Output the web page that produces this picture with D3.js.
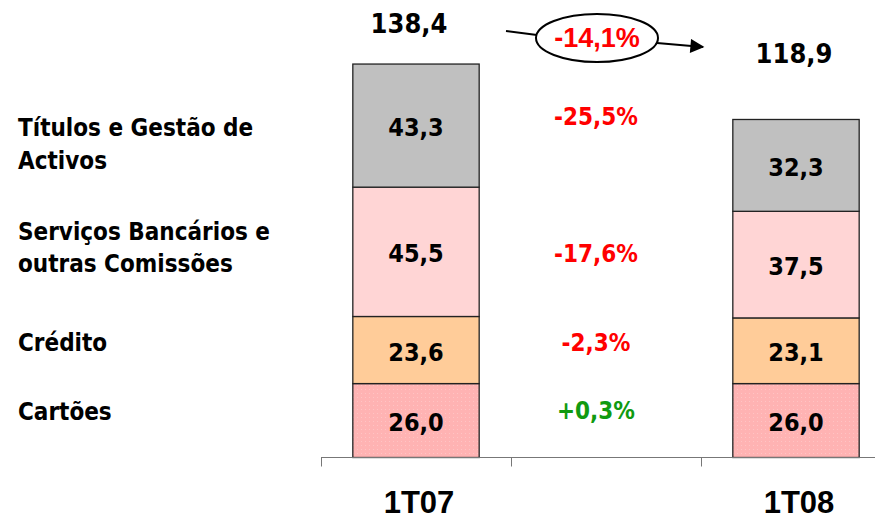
<!DOCTYPE html>
<html lang="pt">
<head>
<meta charset="UTF-8">
<title>Comissões 1T07 vs 1T08</title>
<script src="https://d3js.org/d3.v7.min.js"></script>
<style>
  body { margin: 0; background: #fff; }
  svg text { font-family: "DejaVu Sans Condensed", "DejaVu Sans", sans-serif; font-weight: bold; font-stretch: condensed; }
</style>
</head>
<body>
<svg id="chart" width="875" height="521"></svg>
<script>
// data
const periods = ["1T07", "", "1T08"];
const segments = ["Cartões", "Crédito", "Serviços", "Títulos"];
const segmentLabels = [["Cartões"], ["Crédito"], ["Serviços Bancários e", "outras Comissões"], ["Títulos e Gestão de", "Activos"]];
const values1T07 = [26.0, 23.6, 45.5, 43.3];
const values1T08 = [26.0, 23.1, 37.5, 32.3];
const totals = [138.4, 118.9];
const changes = ["+0,3%", "-2,3%", "-17,6%", "-25,5%"];
const totalChange = "-14,1%";

const width = 875, height = 521;
const svg = d3.select("#chart");

// dotted fill for the Cartões block
const defs = svg.append("defs");
const pat = defs.append("pattern").attr("id", "dots")
    .attr("width", 4).attr("height", 4).attr("patternUnits", "userSpaceOnUse");
pat.append("rect").attr("width", 4).attr("height", 4).attr("fill", "#ffb3b3");
pat.append("rect").attr("x", 1).attr("y", 1).attr("width", 1).attr("height", 1).attr("fill", "#ffc4c4");
defs.append("marker").attr("id", "arrow")
    .attr("viewBox", "0 0 10 10").attr("refX", 9).attr("refY", 5)
    .attr("markerWidth", 16).attr("markerHeight", 14).attr("markerUnits", "userSpaceOnUse")
    .attr("orient", "auto")
  .append("path").attr("d", "M0,0 L10,5 L0,10 z").attr("fill", "#000");

const colors = d3.scaleOrdinal().domain(segments)
    .range(["url(#dots)", "#ffcc99", "#ffd5d5", "#c0c0c0"]);

const x = d3.scaleBand().domain(periods).range([321, 891]).padding(0);
const barW = x.bandwidth() * 0.665;
const y = d3.scaleLinear().domain([0, 140]).range([457.5, 59.5]);

const rows = [
  Object.assign({ period: "1T07" }, Object.fromEntries(segments.map((s, i) => [s, values1T07[i]]))),
  Object.assign({ period: "1T08" }, Object.fromEntries(segments.map((s, i) => [s, values1T08[i]])))
];
const stacked = d3.stack().keys(segments)(rows);
const fmt = v => d3.format(".1f")(v).replace(".", ",");

// bars
const layer = svg.append("g").selectAll("g").data(stacked).join("g")
    .attr("fill", d => colors(d.key));
layer.selectAll("rect").data(d => d).join("rect")
    .attr("x", d => x(d.data.period) + (x.bandwidth() - barW) / 2)
    .attr("y", d => y(d[1]))
    .attr("width", barW)
    .attr("height", d => y(d[0]) - y(d[1]))
    .attr("stroke", "#222")
    .attr("stroke-width", 1.3);

// values inside the blocks
layer.selectAll("text").data(d => d.map(p => Object.assign({ key: d.key }, p))).join("text")
    .attr("x", d => x(d.data.period) + x.bandwidth() / 2)
    .attr("y", d => (y(d[0]) + y(d[1])) / 2)
    .attr("dy", "0.42em")
    .attr("text-anchor", "middle")
    .attr("font-size", 25)
    .attr("fill", "#000")
    .text(d => fmt(d[1] - d[0]));

// axis line with ticks on band edges
const axis = svg.append("g").attr("stroke", "#777").attr("stroke-width", 1);
axis.append("line").attr("x1", x.range()[0]).attr("x2", x.range()[1])
    .attr("y1", y(0)).attr("y2", y(0));
const edges = periods.map(p => x(p));
axis.selectAll(".tick").data(edges).join("line")
    .attr("x1", d => d + 0.5).attr("x2", d => d + 0.5)
    .attr("y1", y(0)).attr("y2", y(0) + 9);

svg.append("g").selectAll("text").data(periods.filter(p => p)).join("text")
    .attr("x", d => x(d) + x.bandwidth() / 2 + 3)
    .attr("y", 513)
    .attr("text-anchor", "middle")
    .style("font-family", "'Liberation Sans', Arial, sans-serif")
    .style("font-stretch", "normal")
    .attr("font-size", 31)
    .text(d => d);

// totals above the bars
const totalOffsets = [-31, -56];
const totalShift = [-7, -2];
svg.append("g").selectAll("text").data(totals).join("text")
    .attr("x", (d, i) => x(rows[i].period) + x.bandwidth() / 2 + totalShift[i])
    .attr("y", (d, i) => y(d) + totalOffsets[i])
    .attr("text-anchor", "middle")
    .attr("font-size", 27)
    .text(d => fmt(d));

// segment names on the left and change % in the middle band
const mid1 = stacked.map(s => (y(s[0][0]) + y(s[0][1])) / 2);
const labelNudge = [-8, -6, -3, 20];
const lineGap = 32.5;
const names = svg.append("g");
segmentLabels.forEach((lines, i) => {
  const base = mid1[i] + labelNudge[i] - (lines.length - 1) * lineGap / 2 + 7;
  lines.forEach((t, j) => {
    names.append("text")
        .attr("x", 18)
        .attr("y", base + j * lineGap)
        .attr("font-size", 24)
        .attr("fill", "#000")
        .text(t);
  });
});

const changeNudge = [-2, 1, 10, -1];
const xMid = x("") + x.bandwidth() / 2;
svg.append("g").selectAll("text").data(changes).join("text")
    .attr("x", xMid - 10)
    .attr("y", (d, i) => mid1[i] + changeNudge[i])
    .attr("text-anchor", "middle")
    .attr("font-size", 24)
    .attr("fill", d => d.startsWith("+") ? "#109a10" : "#ff0000")
    .text(d => d);

// total change bubble with arrow
const cx = xMid - 9, cy = 38;
const bubble = svg.append("g");
bubble.append("line").attr("x1", cx - 91).attr("y1", cy - 7).attr("x2", cx - 60).attr("y2", cy - 3)
    .attr("stroke", "#000").attr("stroke-width", 2);
bubble.append("line").attr("x1", cx + 60).attr("y1", cy + 5).attr("x2", cx + 106).attr("y2", cy + 9)
    .attr("stroke", "#000").attr("stroke-width", 2).attr("marker-end", "url(#arrow)");
bubble.append("ellipse").attr("cx", cx).attr("cy", cy).attr("rx", 61).attr("ry", 24)
    .attr("fill", "#fff").attr("stroke", "#000").attr("stroke-width", 2);
bubble.append("text").attr("x", cx).attr("y", cy + 9)
    .attr("text-anchor", "middle").attr("font-size", 27).attr("fill", "#ff0000")
    .style("font-family", "'Liberation Sans', Arial, sans-serif")
    .style("font-stretch", "normal")
    .text(totalChange);
</script>
</body>
</html>
